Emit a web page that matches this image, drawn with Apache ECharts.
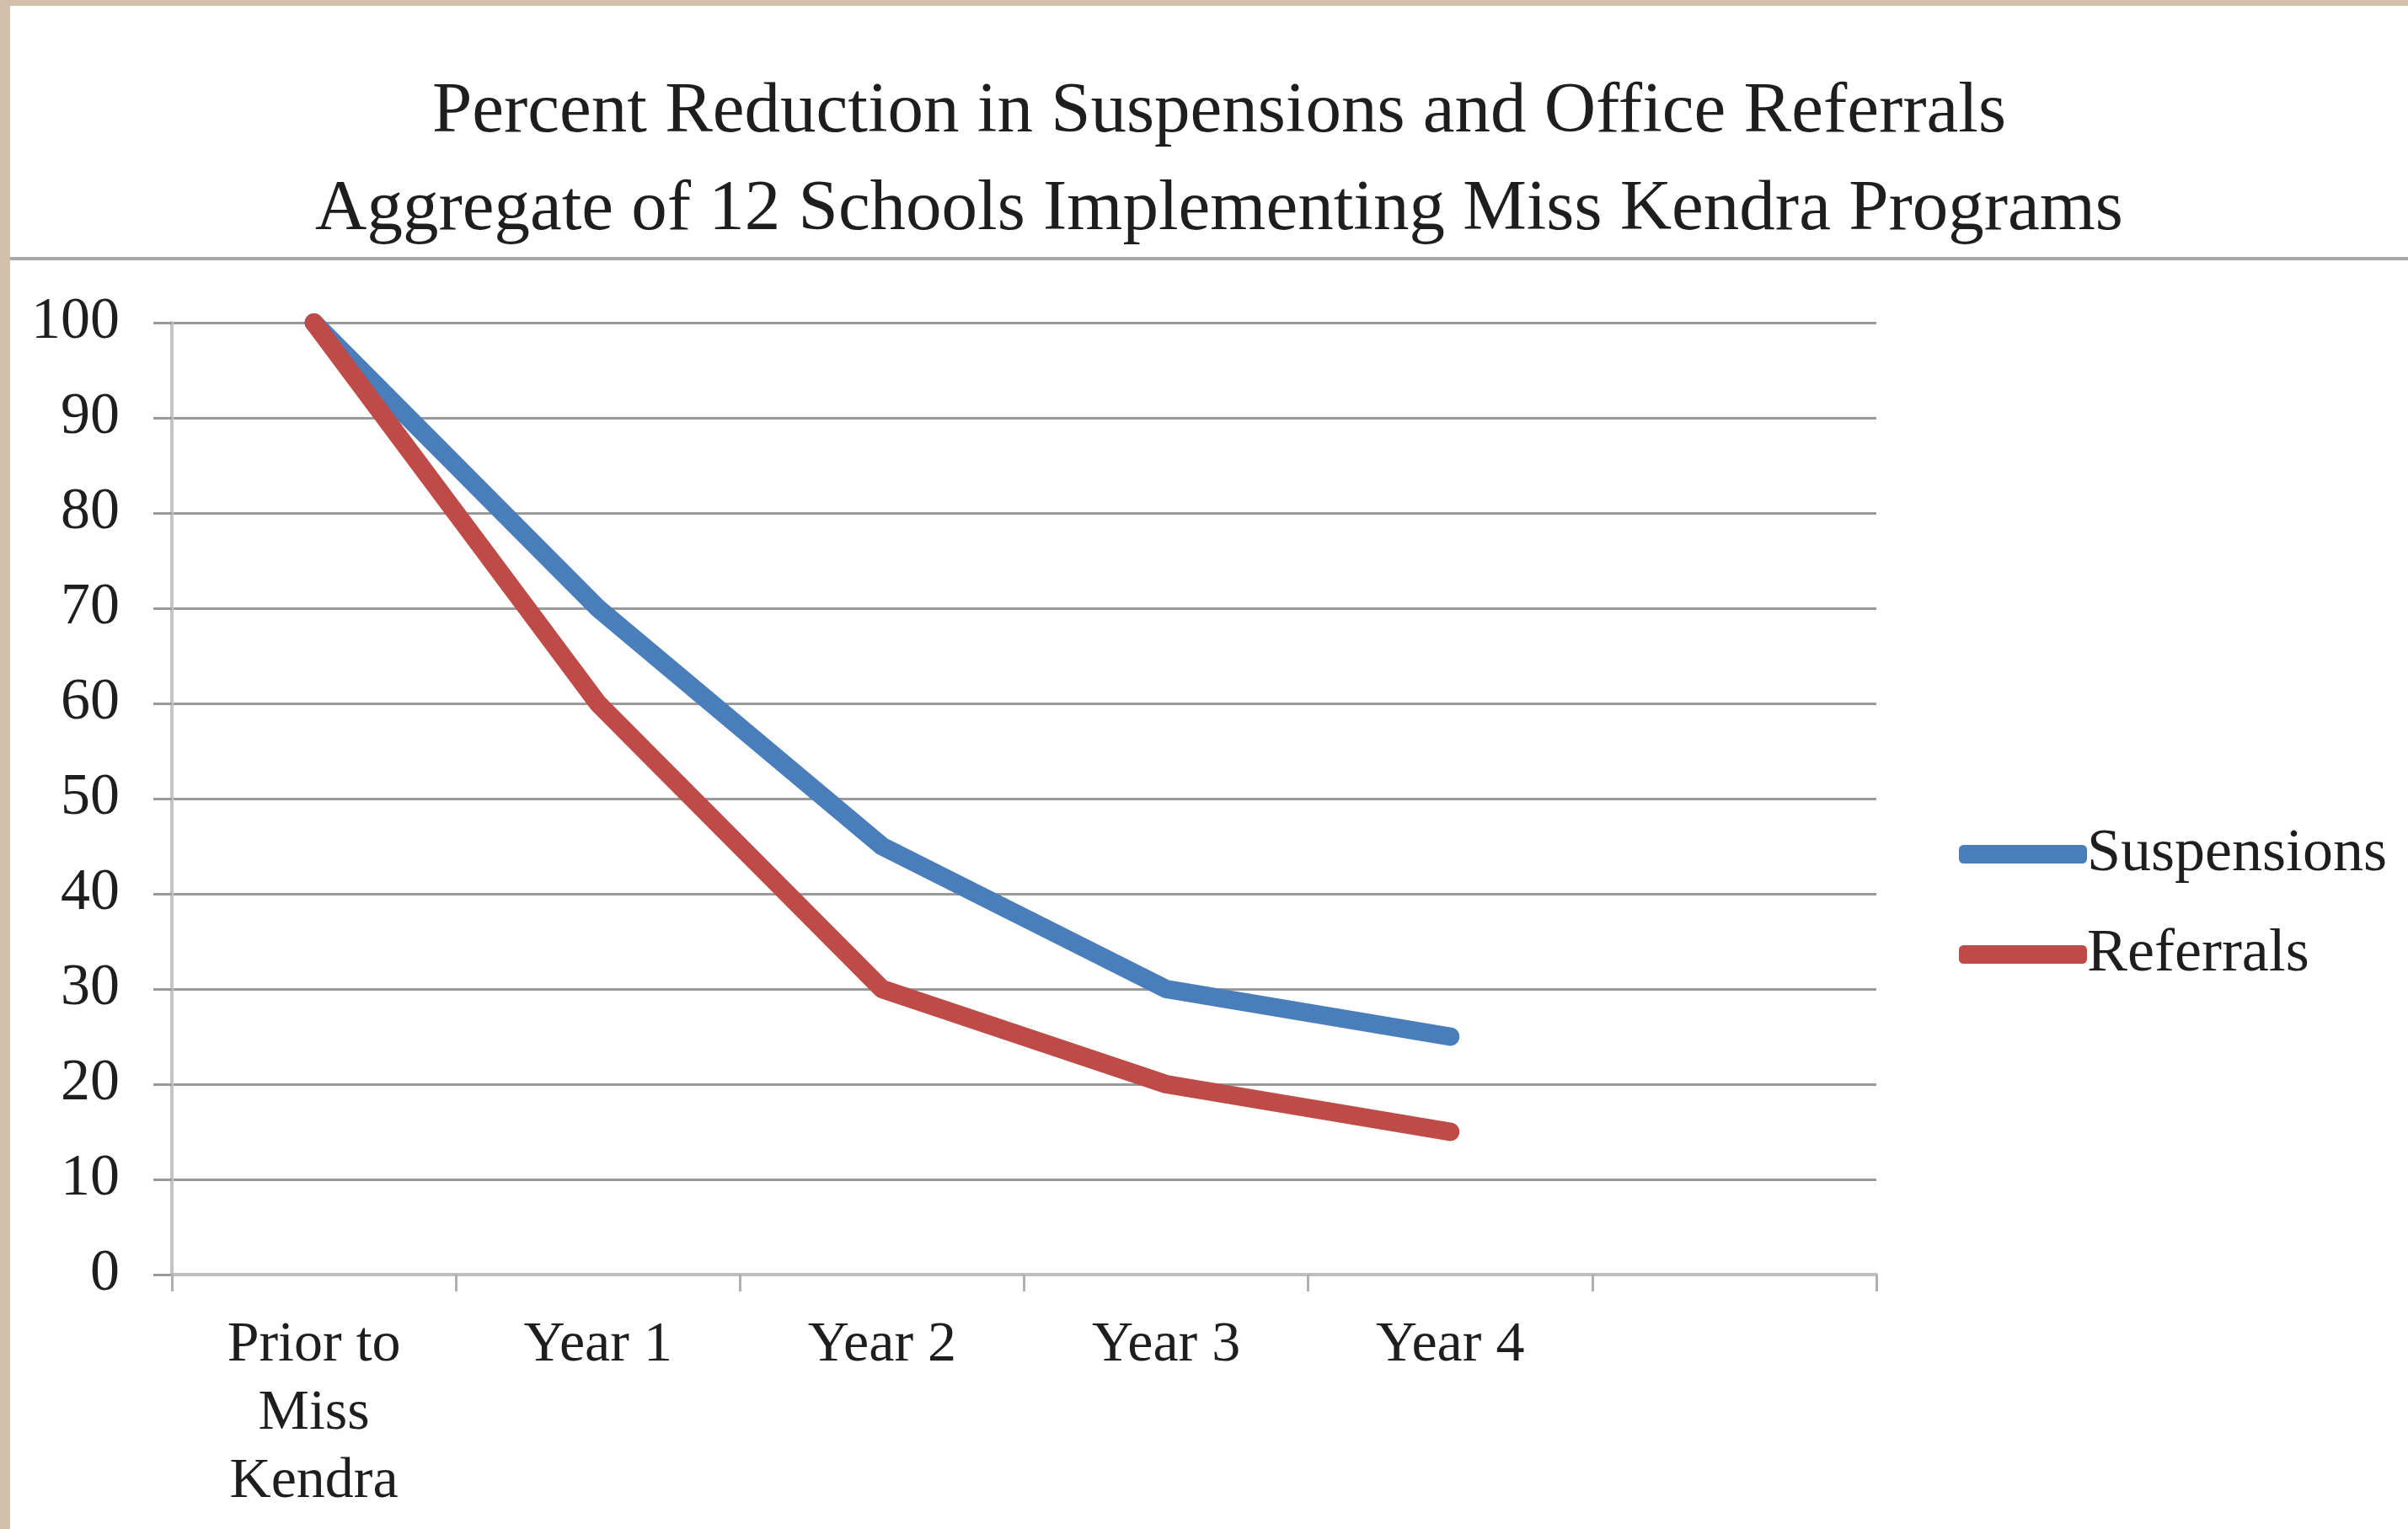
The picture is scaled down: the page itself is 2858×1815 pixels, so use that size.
<!DOCTYPE html>
<html>
<head>
<meta charset="utf-8">
<script src="https://cdn.jsdelivr.net/npm/echarts@6/dist/echarts.min.js"></script>
<style>
  html, body { margin: 0; padding: 0; background: #ffffff; }
  #chart { width: 2858px; height: 1815px; }
</style>
</head>
<body>
<div id="chart"></div>
<script>
const titleLines = ['Percent Reduction in Suspensions and Office Referrals', 'Aggregate of 12 Schools Implementing Miss Kendra Programs'];
const categories = ['Prior to\nMiss\nKendra', 'Year 1', 'Year 2', 'Year 3', 'Year 4', ''];
const suspensions = [100, 70, 45, 30, 25];
const referrals = [100, 60, 30, 20, 15];
const seriesNames = ['Suspensions', 'Referrals'];

const FONT = '"Liberation Serif", "DejaVu Serif", serif';
const TEXT = '#1e1e1e';

const chart = echarts.init(document.getElementById('chart'), null, { renderer: 'canvas' });
chart.setOption({
  backgroundColor: '#ffffff',
  animation: false,
  title: {
    text: titleLines.join('\n'),
    left: 1447,
    top: 76,
    textAlign: 'center',
    padding: 0,
    textStyle: { fontFamily: FONT, fontSize: 85, fontWeight: 'normal', color: TEXT, lineHeight: 116 }
  },
  graphic: [
    { type: 'rect', shape: { x: 0, y: 0, width: 2858, height: 7 }, style: { fill: '#d4c0aa' }, silent: true },
    { type: 'rect', shape: { x: 0, y: 0, width: 12, height: 1815 }, style: { fill: '#d4c0aa' }, silent: true },
    { type: 'line', shape: { x1: 12, y1: 307, x2: 2858, y2: 307 }, style: { stroke: '#a8a8a8', lineWidth: 4 }, silent: true }
  ],
  legend: {
    orient: 'vertical',
    left: 2325,
    top: 978,
    padding: 0,
    itemGap: 47,
    itemWidth: 152,
    itemHeight: 22,
    icon: 'roundRect',
    data: seriesNames,
    textStyle: { fontFamily: FONT, fontSize: 72, color: TEXT, lineHeight: 70, padding: [0, 0, 0, -5] }
  },
  grid: { left: 204, right: 631, top: 383, bottom: 302, containLabel: false },
  xAxis: {
    type: 'category',
    data: categories,
    boundaryGap: true,
    axisLine: { show: true, lineStyle: { color: '#bdbdbd', width: 4 } },
    axisTick: { show: true, length: 20, lineStyle: { color: '#b0b0b0', width: 3 } },
    axisLabel: { interval: 0, margin: 44, fontFamily: FONT, fontSize: 68, color: TEXT, lineHeight: 81 },
    splitLine: { show: false }
  },
  yAxis: {
    type: 'value',
    min: 0,
    max: 100,
    interval: 10,
    axisLine: { show: true, lineStyle: { color: '#c4c4c4', width: 4 } },
    axisTick: { show: true, length: 22, lineStyle: { color: '#9a9a9a', width: 3 } },
    axisLabel: { margin: 62, fontFamily: FONT, fontSize: 70, color: TEXT },
    splitLine: { show: true, lineStyle: { color: '#9a9a9a', width: 3 } }
  },
  series: [
    {
      name: seriesNames[0],
      type: 'line',
      data: suspensions,
      showSymbol: false,
      symbol: 'none',
      color: '#4a7ebb',
      lineStyle: { color: '#4a7ebb', width: 22, cap: 'round', join: 'round' }
    },
    {
      name: seriesNames[1],
      type: 'line',
      data: referrals,
      showSymbol: false,
      symbol: 'none',
      color: '#be4b48',
      lineStyle: { color: '#be4b48', width: 22, cap: 'round', join: 'round' }
    }
  ]
});
</script>
</body>
</html>
